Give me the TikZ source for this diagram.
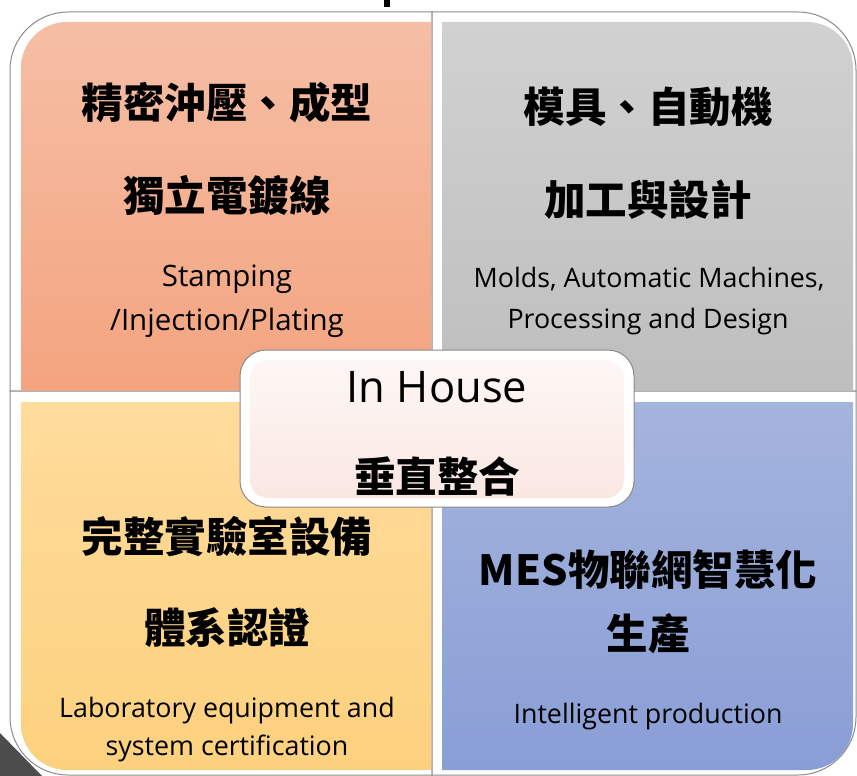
\documentclass[tikz,border=0pt]{standalone}
\usepackage{fontspec}
\setmainfont{Open Sans}
\newfontfamily\cjk{Noto Sans CJK TC}
\definecolor{tlA}{HTML}{F5BEA5}
\definecolor{tlB}{HTML}{F4A47F}
\definecolor{trA}{HTML}{D1D1D1}
\definecolor{trB}{HTML}{BEBEBE}
\definecolor{blA}{HTML}{FFDB9C}
\definecolor{blB}{HTML}{FCD17E}
\definecolor{brA}{HTML}{A5B4DD}
\definecolor{brB}{HTML}{899ED6}
\definecolor{cA}{HTML}{FDF7F5}
\definecolor{cB}{HTML}{FAE7E2}
\definecolor{edge}{HTML}{8A8A8A}
\begin{document}
\begin{tikzpicture}[x=1pt,y=-1pt,
  frame/.style={fill=white,draw=edge,line width=1pt},
  cjkt/.style={font=\cjk\bfseries\fontsize{41.5}{50}\selectfont,inner sep=0pt},
  lat/.style={font=\fontsize{26.8}{30}\selectfont,inner sep=0pt,anchor=base},
  latl/.style={font=\fontsize{29.5}{33}\selectfont,inner sep=0pt,anchor=base},
  big/.style={font=\fontsize{43.5}{50}\selectfont,inner sep=0pt,anchor=base},
]
\useasboundingbox (0,0) rectangle (857,776);
\fill[black!70] (0,733) -- (0,776) -- (42,776) -- cycle;
\fill[black] (384,0) rectangle (390,7);
% frames
\path[frame,rounded corners=58] (10,200) -- (10,12) -- (220,12) [sharp corners] -- (432,12) -- (432,391) -- (10,391) -- cycle;
\path[frame,rounded corners=58] (640,12) -- (856,12) -- (856,200) [sharp corners] -- (856,391) -- (432,391) -- (432,12) -- cycle;
\path[frame,rounded corners=58] (10,600) -- (10,775) -- (220,775) [sharp corners] -- (432,775) -- (432,391) -- (10,391) -- cycle;
\path[frame,rounded corners=58] (640,775) -- (856,775) -- (856,600) [sharp corners] -- (856,391) -- (432,391) -- (432,775) -- cycle;
% fills
\shade[top color=tlA,bottom color=tlB,rounded corners=46] (21,200) -- (21,22) -- (220,22) [sharp corners] -- (431,22) -- (431,390.5) -- (21,390.5) -- cycle;
\shade[top color=trA,bottom color=trB,rounded corners=46] (640,22) -- (853,22) -- (853,200) [sharp corners] -- (853,390.5) -- (442,390.5) -- (442,22) -- cycle;
\shade[top color=blA,bottom color=blB,rounded corners=46] (21,600) -- (21,770) -- (220,770) [sharp corners] -- (431,770) -- (431,402) -- (21,402) -- cycle;
\shade[top color=brA,bottom color=brB,rounded corners=46] (640,770) -- (853,770) -- (853,600) [sharp corners] -- (853,402) -- (442,402) -- (442,770) -- cycle;
% centre
\path[frame,rounded corners=26] (240,350) rectangle (634,507);
\shade[top color=cA,bottom color=cB,rounded corners=18] (250,360) rectangle (624,498);
% texts
\node[cjkt] (tl1) at (227,103) {精密沖壓、成型};
\node[cjkt] (tl2) at (227,195) {獨立電鍍線};
\node[latl] (tl3) at (227,286) {Stamping};
\node[latl] (tl4) at (227,330) {/Injection/Plating};
\node[cjkt] (tr1) at (648,107) {模具、自動機};
\node[cjkt] (tr2) at (648,200) {加工與設計};
\node[lat] (tr3) at (649,287) {Molds, Automatic Machines,};
\node[lat] (tr4) at (648,328) {Processing and Design};
\node[big] (c1) at (437,402) {In House};
\node[cjkt] (c2) at (437,477) {垂直整合};
\node[cjkt] (bl1) at (227,537) {完整實驗室設備};
\node[cjkt] (bl2) at (227,628) {體系認證};
\node[lat] (bl3) at (227,717) {Laboratory equipment and};
\node[lat] (bl4) at (227,755) {system certification};
\node[cjkt] (br1) at (648,570) {MES物聯網智慧化};
\node[cjkt] (br2) at (648,634) {生產};
\node[lat] (br3) at (648,723) {Intelligent production};
\end{tikzpicture}
\end{document}
